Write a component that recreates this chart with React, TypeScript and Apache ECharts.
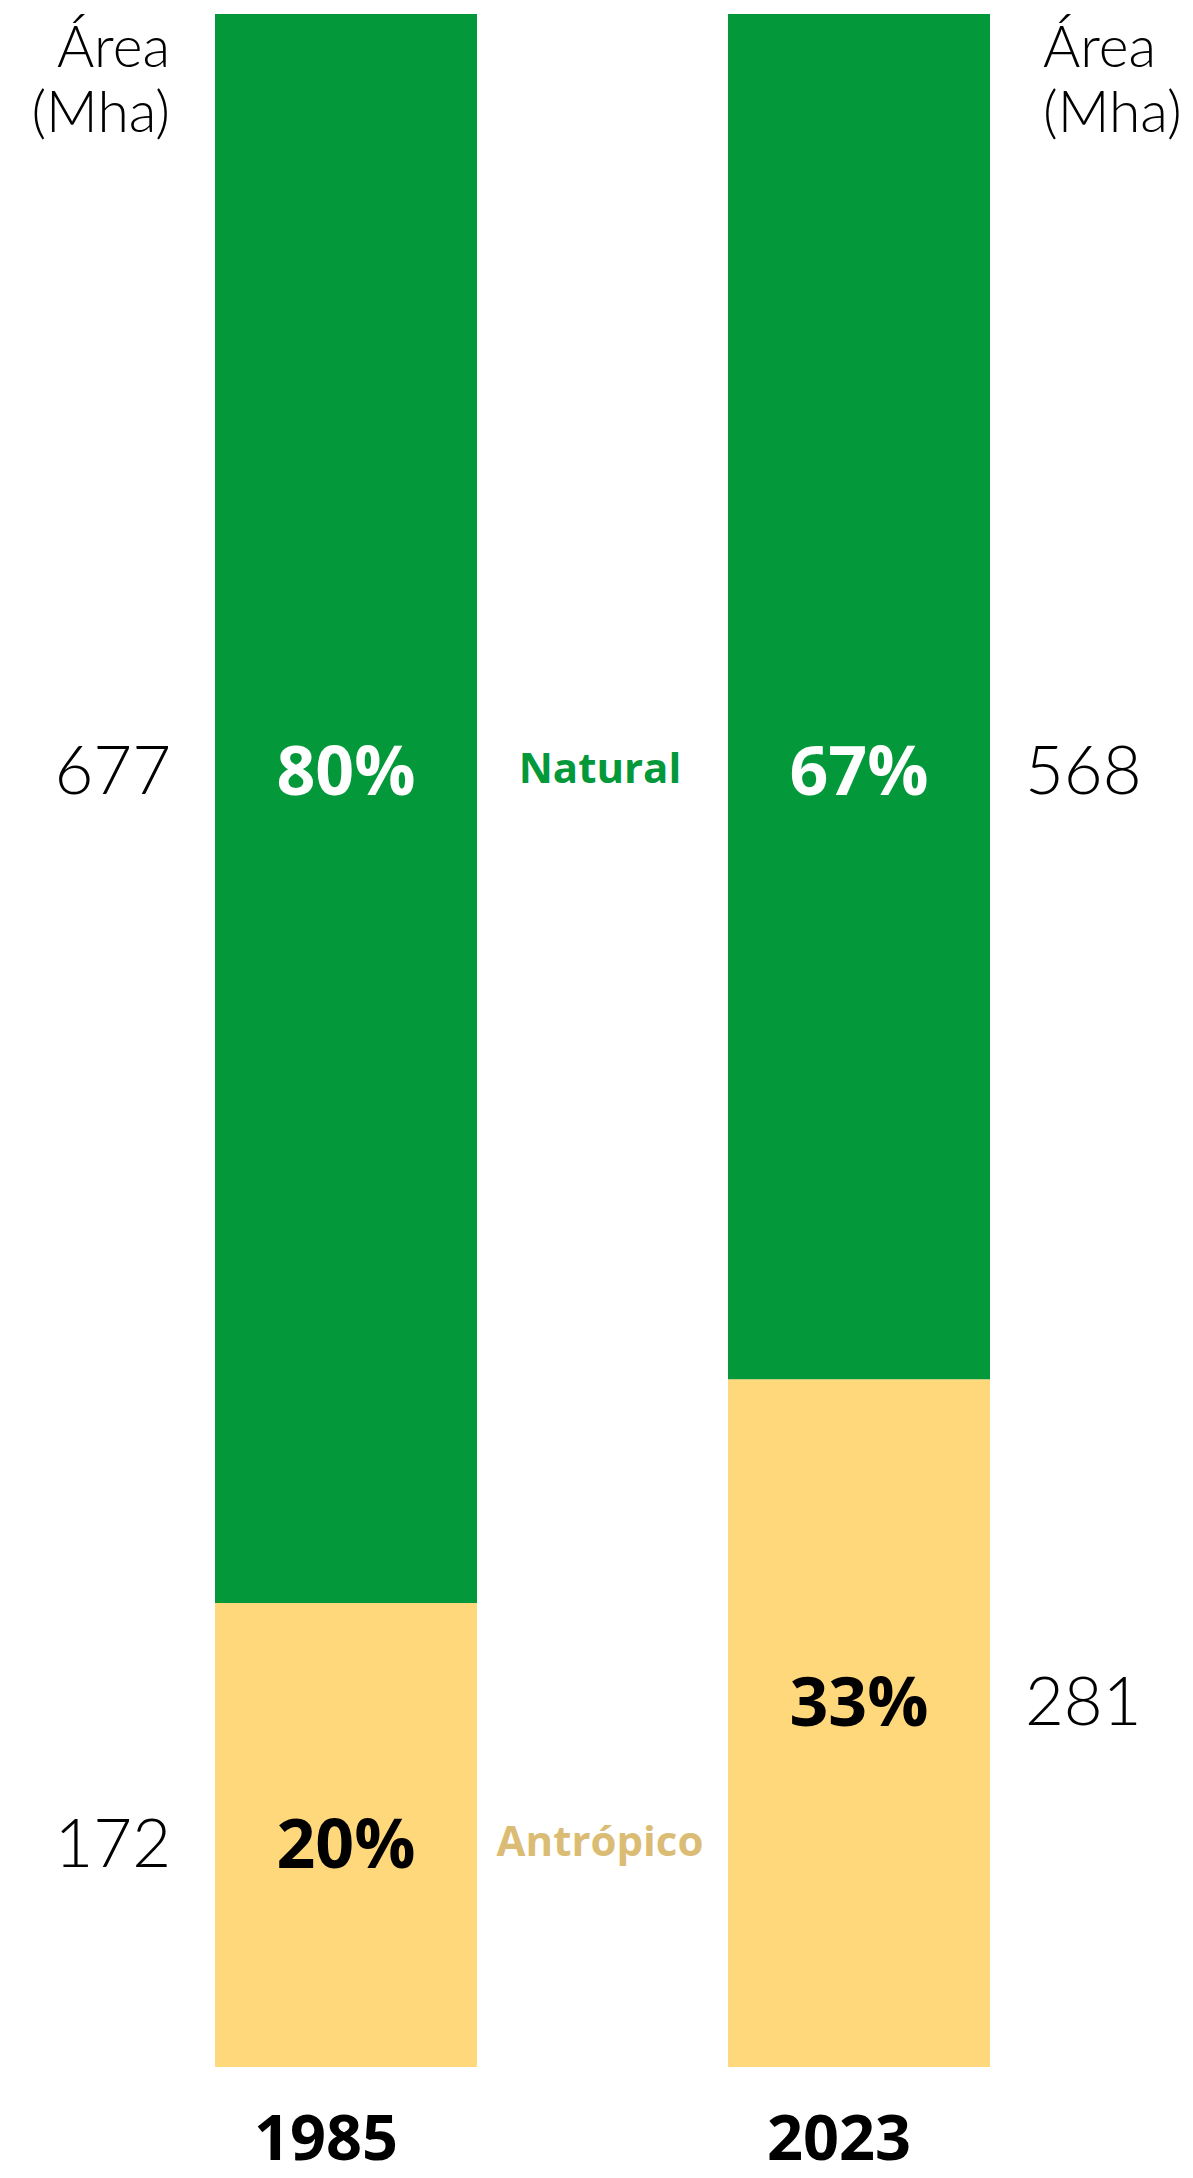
import React, { useEffect, useRef } from "react";
import * as echarts from "echarts";

// ---- data ----
const years = ["1985", "2023"];
// share of each column occupied by each class (as drawn)
const naturalShare = [77.4, 66.5];
const anthropicShare = [22.6, 33.5];
// printed percentages
const naturalPct = ["80%", "67%"];
const anthropicPct = ["20%", "33%"];
// printed areas (Mha)
const naturalArea = [677, 568];
const anthropicArea = [172, 281];
const classNames = ["Natural", "Antrópico"];
const unitLabel = "Área\n(Mha)";

// ---- styles ----
const GREEN = "#03993A";
const YELLOW = "#FED87B";
const ANTHRO_TEXT = "#DBBC74";
const BOLD_FONT = "'Open Sans', 'Noto Sans', sans-serif";
const LIGHT_FONT = "Lato, 'Noto Sans', sans-serif";
const BAR_W = 262;
const NAT_LABEL_Y = [754, 754];
const ANT_LABEL_Y = [238, 320];
const OUT_X = [-44, 297];
const OUT_ALIGN = ["right", "left"];

export default function App() {
  const ref = useRef<HTMLDivElement>(null);
  useEffect(() => {
    if (!ref.current) return;
    const chart = echarts.init(ref.current, null, { renderer: "svg" });
    const innerLabel = (color: string) => ({
      show: true,
      align: "center",
      verticalAlign: "middle",
      fontFamily: BOLD_FONT,
      fontWeight: 700,
      fontSize: 68,
      color,
    });
    const outerLabel = {
      show: true,
      verticalAlign: "middle",
      fontFamily: LIGHT_FONT,
      fontWeight: 300,
      fontSize: 67,
      color: "#000",
    };
    const unitStyle = (x: number, align: string) => ({
      type: "text",
      x,
      y: 12,
      style: {
        text: unitLabel,
        align,
        textAlign: align,
        verticalAlign: "top",
        textVerticalAlign: "top",
        font: `300 57px ${LIGHT_FONT}`,
        lineHeight: 65,
        fill: "#000",
      },
    });
    const classStyle = (y: number, text: string, fill: string) => ({
      type: "text",
      x: 600,
      y,
      style: {
        text,
        align: "center",
        textAlign: "center",
        verticalAlign: "middle",
        textVerticalAlign: "middle",
        font: `700 42px ${BOLD_FONT}`,
        fill,
      },
    });
    chart.setOption({
      animation: false,
      backgroundColor: "#fff",
      grid: { left: 89.5, right: 77.5, top: 14, bottom: 111 },
      xAxis: {
        type: "category",
        data: years,
        axisLine: { show: false },
        axisTick: { show: false },
        axisLabel: {
          fontFamily: BOLD_FONT,
          fontWeight: 700,
          fontSize: 63,
          lineHeight: 50,
          color: "#000",
          margin: 43,
          padding: [0, 40, 0, 0],
        },
      },
      yAxis: { type: "value", min: 0, max: 100, show: false },
      series: [
        {
          name: classNames[1],
          type: "bar",
          stack: "share",
          barWidth: BAR_W,
          barGap: "-100%",
          itemStyle: { color: YELLOW },
          label: { ...innerLabel("#000"), formatter: (p: any) => anthropicPct[p.dataIndex] },
          data: anthropicShare.map((v, i) => ({ value: v, label: { position: ["50%", ANT_LABEL_Y[i]] } })),
        },
        {
          name: classNames[0],
          type: "bar",
          stack: "share",
          barWidth: BAR_W,
          barGap: "-100%",
          itemStyle: { color: GREEN },
          label: { ...innerLabel("#fff"), formatter: (p: any) => naturalPct[p.dataIndex] },
          data: naturalShare.map((v, i) => ({ value: v, label: { position: ["50%", NAT_LABEL_Y[i]] } })),
        },
        {
          name: "areaA",
          type: "bar",
          stack: "ghost",
          barWidth: BAR_W,
          barGap: "-100%",
          silent: true,
          itemStyle: { color: "rgba(0,0,0,0)" },
          label: { ...outerLabel, formatter: (p: any) => String(anthropicArea[p.dataIndex]) },
          data: anthropicShare.map((v, i) => ({
            value: v,
            label: { position: [OUT_X[i], ANT_LABEL_Y[i]], align: OUT_ALIGN[i] },
          })),
        },
        {
          name: "areaN",
          type: "bar",
          stack: "ghost",
          barWidth: BAR_W,
          barGap: "-100%",
          silent: true,
          itemStyle: { color: "rgba(0,0,0,0)" },
          label: { ...outerLabel, formatter: (p: any) => String(naturalArea[p.dataIndex]) },
          data: naturalShare.map((v, i) => ({
            value: v,
            label: { position: [OUT_X[i], NAT_LABEL_Y[i]], align: OUT_ALIGN[i] },
          })),
        },
      ],
      graphic: [
        unitStyle(170, "right"),
        unitStyle(1043, "left"),
        classStyle(766, classNames[0], GREEN),
        classStyle(1839, classNames[1], ANTHRO_TEXT),
      ],
    });
    return () => chart.dispose();
  }, []);
  return (
    <div
      ref={ref}
      style={{ position: "absolute", left: 0, top: 0, width: 1193, height: 2178, background: "#fff" }}
    />
  );
}
